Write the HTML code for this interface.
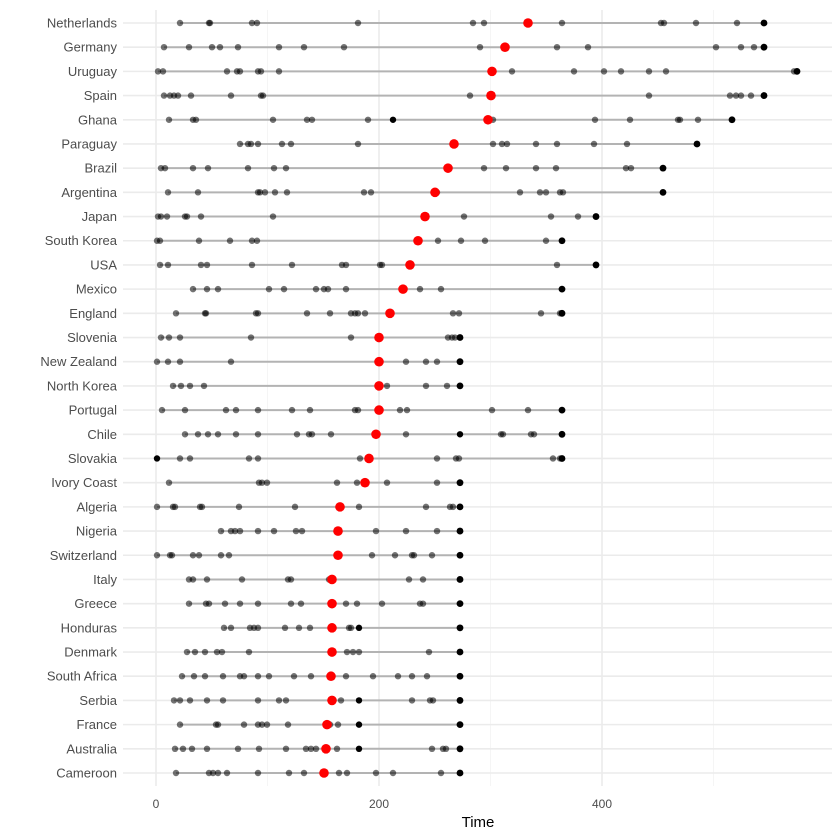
<!DOCTYPE html>
<html><head><meta charset="utf-8"><style>
html,body{margin:0;padding:0;background:#fff;}
svg{display:block;font-family:"Liberation Sans",Arial,sans-serif;}
</style></head><body>
<svg id="s" width="840" height="840" viewBox="0 0 840 840" xmlns="http://www.w3.org/2000/svg"></svg>
<script>
const rows=[
["Netherlands",[180,209,210,252,257,358,473,484,562,661,664,696,737],528,764],
["Germany",[164,189,212,220,238,279,304,344,480,557,588,716,741,754],505,764],
["Uruguay",[158,163,227,237,240,258,261,279,512,574,604,621,649,666,794],492,797],
["Spain",[164,170,174,178,191,231,261,263,470,649,730,736,741,751],491,764],
["Ghana",[169,193,196,273,307,312,368,493,595,630,678,680,698],488,732,[393]],
["Paraguay",[240,248,251,258,282,291,358,493,502,507,536,557,594,627],454,697],
["Brazil",[161,165,193,208,248,274,286,484,506,536,556,626,631],448,663],
["Argentina",[168,198,258,260,265,275,287,364,371,437,520,540,546,560,563],435,663],
["Japan",[158,161,167,185,187,201,273,464,551,578],425,596],
["South Korea",[157,160,199,230,252,257,438,461,485,546],418,562],
["USA",[160,168,201,207,252,292,342,346,380,382,557],410,596],
["Mexico",[193,207,218,269,284,316,324,328,346,420,441],403,562],
["England",[176,205,206,256,258,307,330,351,355,358,365,453,459,541,560],390,562],
["Slovenia",[161,169,180,251,351,448,452,455],379,460],
["New Zealand",[157,168,180,231,406,426,437],379,460],
["North Korea",[173,181,190,204,387,426,447],379,460],
["Portugal",[162,185,226,236,258,292,310,355,358,400,407,492,528],379,562],
["Chile",[185,198,208,218,236,258,297,309,312,331,406,501,503,531,534],376,562,[460]],
["Slovakia",[180,190,249,258,360,437,456,459,553,560],369,562,[157]],
["Ivory Coast",[169,259,262,267,337,357,387,437],365,460],
["Algeria",[157,173,175,200,202,239,295,359,426,450,453],340,460],
["Nigeria",[221,231,235,240,258,274,296,302,376,406,437],338,460],
["Switzerland",[157,170,172,193,199,221,229,372,395,412,414,432],338,460],
["Italy",[189,193,207,242,288,291,329,409,423],332,460],
["Greece",[189,206,209,225,240,258,291,301,346,357,382,420,423],332,460],
["Honduras",[224,231,250,254,258,285,299,310,349,351],332,460,[359]],
["Denmark",[187,195,205,217,222,249,347,353,359,429],332,460],
["South Africa",[182,194,205,223,240,244,258,269,294,311,346,373,398,412,427],331,460],
["Serbia",[174,180,190,207,223,258,279,286,341,412,430,433],332,460,[359]],
["France",[180,216,218,244,258,262,267,288,330,338],327,460,[359]],
["Australia",[175,183,192,207,238,259,286,306,311,316,337,432,443,446],326,460,[359]],
["Cameroon",[176,209,213,218,227,258,289,304,339,347,376,393,441],324,460]
];
const NS="http://www.w3.org/2000/svg",s=document.getElementById("s");
function el(t,a,txt){const e=document.createElementNS(NS,t);for(const k in a)e.setAttribute(k,a[k]);if(txt!=null)e.textContent=txt;s.appendChild(e);return e;}
const L=123,R=832,T=10,B=786;
// minor verticals
[100,300,500].forEach(v=>{const x=156+v*1.115;el("line",{x1:x,x2:x,y1:T,y2:B,stroke:"#f3f3f3","stroke-width":0.8});});
[0,200,400].forEach(v=>{const x=156+v*1.115;el("line",{x1:x,x2:x,y1:T,y2:B,stroke:"#ebebeb","stroke-width":1.6});
 el("text",{x:x,y:808,"text-anchor":"middle","font-size":"12","fill":"#4d4d4d"},String(v));});
const dy=750/31;
rows.forEach((r,i)=>{const y=23+i*dy;el("line",{x1:L,x2:R,y1:y,y2:y,stroke:"#ebebeb","stroke-width":1.6});});
rows.forEach((r,i)=>{const y=23+i*dy;
 el("text",{x:117,y:y+4.5,"text-anchor":"end","font-size":"13","fill":"#4d4d4d"},r[0]);
 const mn=Math.min(...r[1],r[2],...(r[4]||[]));
 el("line",{x1:mn,x2:r[3],y1:y,y2:y,stroke:"#b3b3b3","stroke-width":2});
 r[1].forEach(x=>el("circle",{cx:x,cy:y,r:3.2,fill:"#000","fill-opacity":0.55}));
 (r[4]||[]).forEach(x=>el("circle",{cx:x,cy:y,r:3.2,fill:"#000"}));
 el("circle",{cx:r[3],cy:y,r:3.4,fill:"#000"});
 el("circle",{cx:r[2],cy:y,r:4.8,fill:"#ff0000"});
});
el("text",{x:478,y:827,"text-anchor":"middle","font-size":"15","fill":"#000"},"Time");
</script>
</body></html>
